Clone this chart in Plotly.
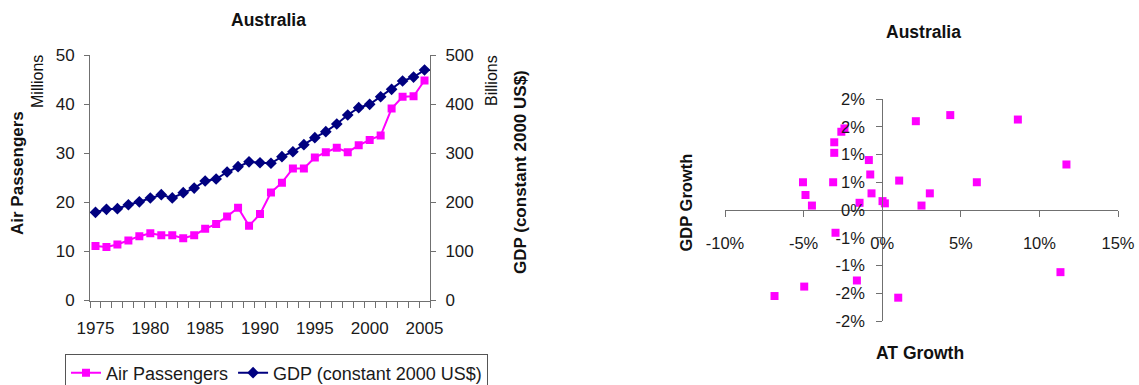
import plotly.graph_objects as go

# ---------------- data ----------------
years = list(range(1975, 2006))
air_passengers = [11.1, 10.9, 11.4, 12.2, 13.1, 13.7, 13.3, 13.3, 12.7, 13.3,
                  14.6, 15.6, 17.1, 18.9, 15.2, 17.6, 22.0, 24.0, 26.9, 26.9,
                  29.1, 30.2, 31.1, 30.2, 31.6, 32.7, 33.6, 39.1, 41.5, 41.6, 44.8]
gdp = [179.6, 185.7, 187, 195, 201, 208.8, 215.5, 209, 219.6, 229,
       243.4, 247.5, 261.7, 272.5, 282.5, 280.5, 279.5, 292.9, 303, 317.3,
       331.6, 343.8, 359.5, 377.8, 392.7, 399.6, 415, 430, 447, 455, 469.5]
year_ticks = [1975, 1980, 1985, 1990, 1995, 2000, 2005]
left_ticks = [0, 10, 20, 30, 40, 50]
right_ticks = [0, 100, 200, 300, 400, 500]

at_growth = [-5.04, -4.88, -4.47, -3.12, -3.05, -3.05, -2.6, -2.4, -2.97, -1.44,
             -0.85, -0.76, -0.68, 0.02, 0.17, 1.08, 2.14, 4.33, 8.63, 11.72,
             6.02, 3.03, 2.5, -6.85, -4.96, -1.61, 1.02, 11.34]
gdp_growth = [0.50, 0.27, 0.08, 0.50, 1.22, 1.03, 1.41, 1.47, -0.41, 0.13,
              0.90, 0.64, 0.30, 0.16, 0.12, 0.53, 1.60, 1.71, 1.63, 0.82,
              0.50, 0.30, 0.08, -1.55, -1.38, -1.27, -1.58, -1.12]
sx_ticks = [-10, -5, 0, 5, 10, 15]
sx_labels = ["-10%", "-5%", "0%", "5%", "10%", "15%"]
sy_ticks = [-2, -1.5, -1, -0.5, 0, 0.5, 1, 1.5, 2]
sy_labels = ["-2%", "-2%", "-1%", "-1%", "0%", "1%", "1%", "2%", "2%"]

FONT = "Liberation Sans, Arial, sans-serif"
W, H = 1139, 385
MAGENTA = "#FF00FF"
NAVY = "#000080"
AXC = "#707070"
TXT = "#1a1a1a"

fig = go.Figure()
fig.add_trace(go.Scatter(x=years, y=air_passengers, name="Air Passengers",
                         mode="lines+markers", line=dict(color=MAGENTA, width=2),
                         marker=dict(symbol="square", size=8, color=MAGENTA),
                         xaxis="x", yaxis="y"))
fig.add_trace(go.Scatter(x=years, y=gdp, name="GDP (constant 2000 US$)",
                         mode="lines+markers", line=dict(color=NAVY, width=2),
                         marker=dict(symbol="diamond", size=9, color=NAVY),
                         xaxis="x", yaxis="y2"))
fig.add_trace(go.Scatter(x=at_growth, y=gdp_growth, mode="markers", showlegend=False,
                         marker=dict(symbol="square", size=8, color=MAGENTA),
                         xaxis="x2", yaxis="y3"))

# domains (paper)
lx0, lx1 = 90 / W, 430 / W
ly0, ly1 = 1 - 300.5 / H, 1 - 55 / H
rx0, rx1 = 725 / W, 1118 / W
ry0, ry1 = 1 - 321 / H, 1 - 99 / H
sx_range = [-10, 15]
sy_range = [-2, 2]
# positions where the scatter axes cross zero
x2_pos = ry0 + (0 - sy_range[0]) / (sy_range[1] - sy_range[0]) * (ry1 - ry0)
y3_pos = rx0 + (0 - sx_range[0]) / (sx_range[1] - sx_range[0]) * (rx1 - rx0)

tickfont = dict(family=FONT, size=17, color=TXT)
stickfont = dict(family=FONT, size=16.5, color=TXT)
fig.update_layout(
    width=W, height=H, margin=dict(l=0, r=0, t=0, b=0, autoexpand=False),
    paper_bgcolor="white", plot_bgcolor="rgba(0,0,0,0)",
    font=dict(family=FONT, color=TXT),
    xaxis=dict(domain=[lx0, lx1], range=[1974.5, 2005.5], anchor="y",
               tickvals=year_ticks, ticktext=[str(y) for y in year_ticks],
               ticks="", showline=True, linecolor=AXC, linewidth=1,
               showgrid=False, zeroline=False, tickfont=tickfont,
               ticklabelstandoff=12, automargin=False,
               minor=dict(tick0=1974.5, dtick=1, ticks="outside", ticklen=6,
                          tickcolor=AXC, showgrid=False)),
    yaxis=dict(domain=[ly0, ly1], range=[0, 50], anchor="x",
               tickvals=left_ticks, ticks="outside", ticklen=5, tickcolor=AXC,
               showline=True, linecolor=AXC, showgrid=False, zeroline=False,
               tickfont=tickfont, ticklabelstandoff=6, automargin=False),
    yaxis2=dict(range=[0, 500], overlaying="y", side="right", anchor="x",
                tickvals=right_ticks, ticks="outside", ticklen=5, tickcolor=AXC,
                showline=True, linecolor=AXC, showgrid=False, zeroline=False,
                tickfont=tickfont, ticklabelstandoff=6, automargin=False),
    xaxis2=dict(domain=[rx0, rx1], range=sx_range, anchor="free", position=x2_pos,
                tickvals=sx_ticks, ticktext=sx_labels, ticks="outside", ticklen=6,
                tickcolor=AXC, showline=True, linecolor=AXC, showgrid=False,
                zeroline=False, tickfont=stickfont,
                ticklabelstandoff=12, automargin=False),
    yaxis3=dict(domain=[ry0, ry1], range=sy_range, anchor="free", position=y3_pos,
                tickvals=sy_ticks, ticktext=sy_labels, ticks="outside", ticklen=6,
                tickcolor=AXC, showline=True, linecolor=AXC, showgrid=False,
                zeroline=False, tickfont=stickfont,
                ticklabelstandoff=8, automargin=False),
    legend=dict(orientation="h", x=65 / W, y=1 - 353.5 / H, xanchor="left", yanchor="top",
                bordercolor="#555", borderwidth=1, bgcolor="white",
                font=dict(family=FONT, size=18, color=TXT),
                itemwidth=30, tracegroupgap=0),
    showlegend=True,
)

ann = []
def txt(x, y, s, size, bold=False, angle=0):
    ann.append(dict(x=x / W, y=1 - y / H, xref="paper", yref="paper",
                    text=("<b>%s</b>" % s) if bold else s,
                    showarrow=False, textangle=angle, xanchor="center", yanchor="middle",
                    font=dict(family=FONT, size=size, color="#111")))

txt(268, 20, "Australia", 17.5, True)
txt(17, 173, "Air Passengers", 17, True, -90)
txt(37.5, 81.5, "Millions", 16, False, -90)
txt(491.5, 80.5, "Billions", 16, False, -90)
txt(521, 172, "GDP (constant 2000 US$)", 17, True, -90)
txt(923, 32, "Australia", 17.5, True)
txt(685, 202.5, "GDP Growth", 16.5, True, -90)
txt(920.5, 352.5, "AT Growth", 17.5, True)
fig.update_layout(annotations=ann)

fig.write_html("out.html", config={"displayModeBar": False},
               post_script="document.body.style.margin='0px';")
